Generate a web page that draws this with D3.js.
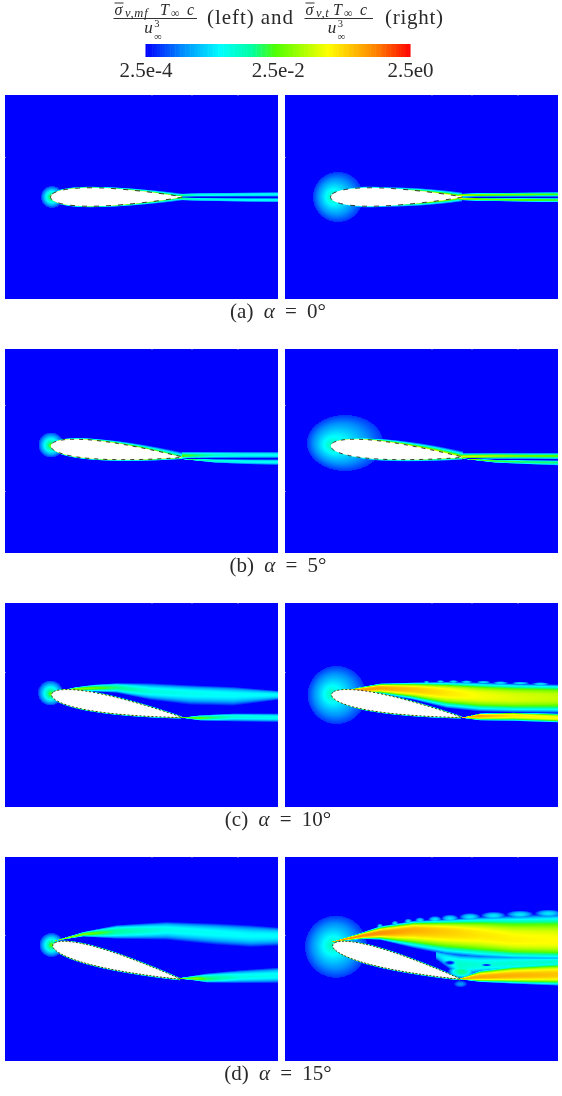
<!DOCTYPE html>
<html><head><meta charset="utf-8">
<script src="https://cdn.jsdelivr.net/npm/d3@7"></script>
<style>html,body{margin:0;padding:0;background:#fff}svg{display:block}text{filter:blur(0.3px)}</style>
</head><body><div id="chart"></div>
<script>
// ---- colour bar ----
const barTicks = [2.5e-4, 2.5e-2, 2.5];
const barLabels = ["2.5e-4", "2.5e-2", "2.5e0"];
const rampStops = [0, 0.14, 0.28, 0.4, 0.49, 0.687, 0.87, 1];
const rampColors = ["#0000ff", "#0090ff", "#00ffff", "#00ffa0", "#50ff00", "#ffff00", "#ff8000", "#ff0000"];

// ---- cases ----
const captionLetters = ["(a)", "(b)", "(c)", "(d)"];
const alphaDeg = [0, 5, 10, 15];
const pivotY = [0, 0.5, 0.8, 3];
const topMarks = [101, 141, 187];
const sideMarks = [[-40], [-46, 40], [-33], [-24]];

// ---- aerofoil: chord = 132 units ----
const chordStations = [0, 1.65, 3.3, 6.6, 9.9, 13.2, 19.8, 26.4, 33, 39.6, 52.8, 66, 79.2, 92.4, 105.6, 118.8, 125.4, 132];
const halfThickness = [0, 2.92, 4.03, 5.48, 6.47, 7.21, 8.24, 8.83, 9.15, 9.24, 8.94, 8.16, 7.02, 5.64, 4.04, 2.23, 1.24, 0.2];

// ---- wall layers: [chord x, thickness, level] ----
const wallA_L = [[0,1.2,0.03],[60,1.5,0.05],[100,2.5,0.05],[132,3.5,0.03]];
const wallA_R = [[0,1.5,0.005],[60,1.5,0.006],[90,3,0.05],[115,4,0.13],[132,4.5,0.1]];
const wallB_upL = [[0,1,0.06],[50,2,0.08],[90,3.5,0.05],[132,5,0.02]];
const wallB_loL = [[0,1.2,0.05],[132,2,0.06]];
const wallB_upR = [[0,1,0.03],[40,2,0.08],[100,5,0.13],[132,6,0.1]];
const wallB_loR = [[0,1.5,0.006],[80,2,0.02],[132,2.5,0.05]];
const wallC_up = [[0,1,0.05],[132,1.2,0.03]];
const wallC_lo = [[0,1,0.05],[132,1.5,0.06]];

// ---- wakes & shear layers: [x, top, middle, bottom, level] ----
const leftA_upper = [[128,-3.4,-1.5,-0.2,0.015],[150,-4.2,-2.2,-0.2,0.005],[198,-4.7,-2.5,-0.2,0.004],[228,-5,-2.7,-0.2,0.0038]];
const leftA_lower = [[128,0.2,1.5,3.4,0.015],[150,0.6,2.2,4.2,0.005],[198,0.9,3,5,0.004],[228,1,3,5.5,0.0038]];
const rightA_upper = [[128,-3.4,-1.5,-0.2,0.08],[150,-4.2,-2.2,-0.2,0.04],[198,-4.7,-2.5,-0.2,0.03],[228,-5,-2.7,-0.2,0.02]];
const rightA_lower = [[128,0.2,1.5,3.4,0.08],[150,0.6,2.2,4.2,0.04],[198,0.9,3,5,0.03],[228,1,3,5.5,0.02]];

const leftB_upper = [[132,0.7,5,7.3,0.025],[165,0.7,4,7.3,0.006],[198,0.7,4,7.3,0.004],[228,0.7,4,7.3,0.0038]];
const leftB_lower = [[132,7.4,7.8,8.4,0.02],[165,8,10,12,0.006],[198,8.2,10.5,13.5,0.004],[228,8.2,11,14.2,0.0038]];
const rightB_upper = [[132,2,6,7.2,0.1],[165,2,5,8,0.05],[198,2,5,8,0.03],[228,2,5,8.3,0.025]];
const rightB_lower = [[132,7.3,7.6,8,0.05],[165,8.5,10,12,0.02],[198,9,11,13.5,0.015],[228,9.3,11.5,14.7,0.012]];

const leftC_upper = [[3,-13,-12.7,-12.5,0.06],[25,-18,-16,-14,0.05],[43,-20.5,-16.7,-13.3,0.03],[66,-22,-17.3,-12,0.012],[99.5,-22,-13.3,-5,0.0048],[139.5,-20,-11.7,0,0.004],[183,-18.3,-10,1,0.0035],[228,-14.3,-10,-5,0.0032]];
const leftC_lower = [[131,12.5,12.5,13,0.03],[149.5,10,13.3,15.7,0.025],[183,8.3,11.7,16.7,0.0053],[228,8.3,12.7,17.3,0.004]];
const rightC_upper = [[3,-13,-12.7,-12.5,0.6],[49.5,-21.7,-16.7,-11,0.48],[83,-22.7,-15,-5,0.3],[116,-23.3,-11.7,3.3,0.19],[149.5,-22.7,-8.3,6.7,0.13],[183,-21.7,-6.7,7.7,0.1],[228,-20.7,-6.7,8.3,0.076]];
const rightC_lower = [[130.5,12.7,12.7,12.9,0.3],[149.5,8.3,11,15.7,0.48],[183,7.4,10.7,16.3,0.19],[228,8.3,13.3,17.7,0.13]];

const leftD_upper = [[4.5,-18.6,-18.3,-18,0.06],[33,-27.3,-24.7,-22.3,0.04],[66,-34,-27.3,-20,0.01],[116,-37.3,-29,-19,0.0042],[166,-35.7,-25.7,-14,0.0036],[200,-34,-23,-11.7,0.0033],[228,-31.7,-23,-13,0.0033]];
const leftD_lower = [[126,19.3,19.3,19.6,0.025],[146,16,20,22,0.04],[156,14.3,20.3,23.7,0.015],[189.5,11,18.3,24.3,0.0045],[228,8.3,17,24.3,0.0038]];
const rightD_upper = [[2,-17.6,-17.3,-17,0.6],[33,-27.3,-23.3,-19.7,0.63],[49.5,-33,-25.7,-19,0.6],[83,-38.3,-29,-10.7,0.4],[116,-40,-27.3,-4,0.27],[149.5,-42.3,-24,-0.7,0.19],[183,-44,-19,1,0.16],[228,-45.7,-17.3,1.7,0.14]];
const rightD_lower = [[128,20,20,20.3,0.4],[149.5,11,18.3,23.3,0.45],[183,6,17,25,0.4],[228,2.7,16,27,0.3]];
const rightD_bridge = [[106,-8,-5,1,0.002],[129.5,-5,6,18,0.006],[149.5,-4,6,14,0.005],[228,-2,3,8,0.006]];

// ---- nose glow: [centre x, centre y, radius x, radius y, focus x, focus y, nose level, rim level] ----
const noseAL = [1.5,0,11,11,1,0,0.03,0.0004];
const noseBL = [0.5,-6,12.5,12.5,0.5,-5.5,0.03,0.0004];
const noseCL = [0,-12,12.5,12.5,0.5,-11,0.03,0.0004];
const noseDL = [1,-14,12,12,1,-14,0.03,0.0004];
const noseAR = [7.5,0,25,25,1,0,0.008,0.0004];
const noseBR = [14.5,-8,38,28,0.5,-5.5,0.008,0.0004];
const noseCR = [6.2,-10,29,29,0.5,-11,0.008,0.0004];
const noseDR = [5.5,-12.3,31,31,1,-14,0.008,0.0004];

// ---- puffs on the outer edge: [x, y, radius x, radius y] ----
const puffsC = [[96,-22.7,3,1.6],[110,-23.3,4,1.6],[123,-23.3,5,1.6],[136,-23,6,1.7],[153,-22.7,7,1.8],[170,-22,8,1.8],[190,-21.7,9,1.8],[210,-21,9,1.8]];
const puffsD = [[49.5,-33,3,2.4],[64.5,-35.5,3.5,2.8],[77.8,-37.5,4,3],[89.5,-38.5,5,3.2],[104.5,-39.5,7,3.5],[119.5,-40.5,9,4],[139.5,-42,11,4],[163,-43.3,13,4],[189.5,-44.5,14,4],[218,-45.5,14,4]];

// ---- quiet patches & extra blobs near the trailing edge ----
const holesC = [[131,7,6,2]];
const holesD = [[119.5,3.7,6,2.5],[156,6,6,1.3]];
const blobsD = [[131,12.7,14,7,0.012],[130,25,7,3.5,0.001]];

const panels = [
  {row:0,side:0,nose:noseAL,up:wallA_L,lo:wallA_L,ribbons:[leftA_upper,leftA_lower],pow:[2,2],dash:"5 7"},
  {row:0,side:1,nose:noseAR,up:wallA_R,lo:wallA_R,ribbons:[rightA_upper,rightA_lower],pow:[2,2],dash:"5 7"},
  {row:1,side:0,nose:noseBL,up:wallB_upL,lo:wallB_loL,ribbons:[leftB_upper,leftB_lower],pow:[2,2],dash:"4 5"},
  {row:1,side:1,nose:noseBR,up:wallB_upR,lo:wallB_loR,ribbons:[rightB_upper,rightB_lower],pow:[2,2],dash:"4 5"},
  {row:2,side:0,nose:noseCL,up:wallC_up,lo:wallC_lo,ribbons:[leftC_upper,leftC_lower],pow:[2.2,1.8],dash:"2 2"},
  {row:2,side:1,nose:noseCR,up:wallC_up,lo:wallC_lo,ribbons:[rightC_upper,rightC_lower],pow:[3,2.2],puffs:puffsC,holes:holesC,dash:"2 2"},
  {row:3,side:0,nose:noseDL,up:wallC_up,lo:wallC_lo,ribbons:[leftD_upper,leftD_lower],pow:[2.2,1.8],dash:"2 1.5"},
  {row:3,side:1,nose:noseDR,up:wallC_up,lo:wallC_lo,ribbons:[rightD_upper,rightD_lower,rightD_bridge],pow:[2.5,2.2],puffs:puffsD,holes:holesD,blobs:blobsD,dash:"2 1.5"}
];

// ---- layout ----
const W = 562, H = 1096, PW = 273, PH = 204;
const panelX = [5, 285], panelY = [95, 349, 603, 857];
const serif = "'Liberation Serif','Times New Roman',serif";
const ink = "#2a2a2a";
const svg = d3.select("#chart").append("svg").attr("width", W).attr("height", H).style("font-family", serif).style("fill", ink);

const xS = d3.scaleLinear([-45.5, 227.5], [0, PW]);
const yS = d3.scaleLinear([-102, 102], [0, PH]);
const level = d3.scaleLog([2.5e-4, 2.5], [0, 1]);
const ramp = d3.scaleLinear(rampStops, rampColors).interpolate(d3.interpolateRgb).clamp(true);
const halfS = d3.scaleLinear(chordStations, halfThickness);
const palette = d3.range(0, 1001).map(i => d3.rgb(ramp(i / 1000)));

function wallScales(rows) {
  const xs = rows.map(r => r[0]);
  return {th: d3.scaleLinear(xs, rows.map(r => r[1])).clamp(true),
          t: d3.scaleLinear(xs, rows.map(r => level(r[2]))).clamp(true)};
}
function ellipseRay(px, py, n) {
  const ax = (px - n[0]) / n[2], ay = (py - n[1]) / n[3];
  const fx = (n[4] - n[0]) / n[2], fy = (n[5] - n[1]) / n[3];
  const dx = ax - fx, dy = ay - fy;
  const a = dx*dx + dy*dy;
  if (a === 0) return 0;
  const b = 2*(fx*dx + fy*dy), c = fx*fx + fy*fy - 1;
  const k = (-b + Math.sqrt(b*b - 4*a*c)) / (2*a);
  return 1 / k;
}

function renderField(p) {
  const cv = document.createElement("canvas");
  cv.width = PW; cv.height = PH;
  const ctx = cv.getContext("2d");
  const img = ctx.createImageData(PW, PH);
  const a = alphaDeg[p.row] * Math.PI / 180, ca = Math.cos(a), sa = Math.sin(a);
  const py0 = pivotY[p.row];
  const up = wallScales(p.up), lo = wallScales(p.lo);
  const noseHi = level(p.nose[6]), noseRim = level(p.nose[7]);
  const ribbons = p.ribbons.map(r => {
    const xs = r.map(d => d[0]);
    return {x0: xs[0], x1: xs[xs.length-1],
      top: d3.scaleLinear(xs, r.map(d => d[1])), mid: d3.scaleLinear(xs, r.map(d => d[2])),
      bot: d3.scaleLinear(xs, r.map(d => d[3])), pk: d3.scaleLinear(xs, r.map(d => level(d[4])))};
  });
  const puffT = level(0.0025);
  for (let j = 0; j < PH; j++) {
    const y = yS.invert(j + 0.5);
    for (let i = 0; i < PW; i++) {
      const x = xS.invert(i + 0.5);
      let t = 0;
      const s = ellipseRay(x, y, p.nose);
      if (s < 1) t = Math.max(t, noseRim + (noseHi - noseRim) * (1 - s));
      for (const r of ribbons) {
        if (x < r.x0 || x > r.x1) continue;
        const m = r.mid(x), tp = r.top(x), bt = r.bot(x);
        const d = y < m ? (m - y) / Math.max(m - tp, 0.05) : (y - m) / Math.max(bt - m, 0.05);
        if (d < 1) {
          const e = y < m ? p.pow[0] : p.pow[1];
          t = Math.max(t, r.pk(x) * (1 - Math.pow(d, e)));
        }
      }
      const rx = x - 66, ry = y - py0;
      const bx = rx * ca + ry * sa + 66, by = -rx * sa + ry * ca;
      if (bx >= 0 && bx <= 132) {
        const w = by < 0 ? up : lo;
        const d = Math.abs(by) - halfS(bx), th = w.th(bx);
        if (d > -1 && d < th) t = Math.max(t, w.t(bx) * (1 - Math.max(d, 0) / th));
      }
      if (p.puffs) for (const f of p.puffs) {
        const dx = (x - f[0]) / f[2], dy = (y - f[1]) / f[3], d2 = dx*dx + dy*dy;
        if (d2 < 1) t = Math.max(t, puffT * (1 - d2));
      }
      if (p.blobs) for (const f of p.blobs) {
        const dx = (x - f[0]) / f[2], dy = (y - f[1]) / f[3], d2 = dx*dx + dy*dy;
        if (d2 < 1) t = Math.max(t, level(f[4]) * (1 - d2));
      }
      if (p.holes) for (const f of p.holes) {
        const dx = (x - f[0]) / f[2], dy = (y - f[1]) / f[3], d2 = dx*dx + dy*dy;
        if (d2 < 1) t = t * d2;
      }
      const c = palette[Math.round(Math.max(0, Math.min(1, t)) * 1000)];
      const k = (j * PW + i) * 4;
      img.data[k] = c.r; img.data[k+1] = c.g; img.data[k+2] = c.b; img.data[k+3] = 255;
    }
  }
  ctx.putImageData(img, 0, 0);
  return cv.toDataURL();
}

const foilLine = d3.line().x(d => xS(d[0])).y(d => yS(d[1])).curve(d3.curveCatmullRomClosed.alpha(0.5));
panels.forEach(p => {
  const g = svg.append("g").attr("transform", `translate(${panelX[p.side]},${panelY[p.row]})`);
  g.append("image").attr("width", PW).attr("height", PH).attr("href", renderField(p))
    .style("filter", "blur(0.45px)");
  const a = alphaDeg[p.row] * Math.PI / 180, ca = Math.cos(a), sa = Math.sin(a), py0 = pivotY[p.row];
  const rot = (cx, cy) => [(cx-66)*ca - cy*sa + 66, (cx-66)*sa + cy*ca + py0];
  const outline = chordStations.map((c,i) => rot(c, -halfThickness[i]))
    .concat(chordStations.slice(1, -1).reverse().map(c => rot(c, halfS(c))));
  g.append("path").attr("d", foilLine(outline)).attr("fill", "#fff")
    .attr("stroke", "#222").attr("stroke-width", 0.9).attr("stroke-dasharray", p.dash);
  const topAx = g.append("g").call(d3.axisTop(xS).tickValues(topMarks).tickSize(-1).tickFormat(""));
  const sideAx = g.append("g").call(d3.axisLeft(yS).tickValues(sideMarks[p.row]).tickSize(-1).tickFormat(""));
  [topAx, sideAx].forEach(ax => {
    ax.select(".domain").remove();
    ax.selectAll("line").attr("stroke", "#fff").attr("stroke-opacity", 0.5);
  });
});

// ---- captions ----
const capY = [318, 572, 826, 1080];
captionLetters.forEach((c,i) => {
  const t = svg.append("text").attr("x", 278).attr("y", capY[i]).attr("text-anchor", "middle")
    .attr("font-size", 21).style("word-spacing", "5px");
  t.append("tspan").text(c + " ");
  t.append("tspan").attr("font-style", "italic").text("α");
  t.append("tspan").text(` = ${alphaDeg[i]}°`);
});

// ---- colour bar ----
const barX = d3.scaleLog([2.5e-4, 2.5], [145.5, 410]);
const barSteps = d3.range(0, 160).map(i => i / 160);
svg.append("g").selectAll("rect").data(barSteps).join("rect")
  .attr("x", d => barX.range()[0] + d * 264.5).attr("y", 44).attr("width", 2.2).attr("height", 13)
  .attr("fill", d => ramp(d));
const axisG = svg.append("g").attr("transform", "translate(0,57)")
  .call(d3.axisBottom(barX).tickValues(barTicks).tickSize(0).tickPadding(5).tickFormat((d,i) => barLabels[i]));
axisG.select(".domain").remove();
axisG.selectAll("text").attr("font-family", serif).attr("font-size", 21).attr("fill", ink).attr("dy", "0.71em");

// ---- title ----
function fraction(x0, x1, subText, subW) {
  const g = svg.append("g");
  g.append("line").attr("x1", x0).attr("x2", x1).attr("y1", 18.5).attr("y2", 18.5).attr("stroke", "#333").attr("stroke-width", 1);
  g.append("line").attr("x1", x0 + 1).attr("x2", x0 + 10).attr("y1", 3).attr("y2", 3).attr("stroke", "#333").attr("stroke-width", 1);
  const it = (x, y, s, fs, style) =>
    g.append("text").attr("x", x).attr("y", y).attr("font-size", fs).attr("font-style", style || "italic").text(s);
  it(x0 + 1, 14.5, "σ", 16);
  it(x0 + 11.5, 17, subText, 12.5).style("letter-spacing", "0.8px");
  const tx = x0 + 12 + subW;
  it(tx, 14.5, "T", 16);
  it(tx + 11, 17, "∞", 12, "normal");
  it(tx + 27, 14.5, "c", 16);
  const cx = (x0 + x1) / 2 - 11;
  it(cx, 33, "u", 17);
  it(cx + 10, 26.5, "3", 10.5, "normal");
  it(cx + 10, 39.5, "∞", 10.5, "normal");
}
fraction(113.5, 197, "v,mf", 34.5);
fraction(304.5, 373, "v,t", 16.5);
svg.append("text").attr("x", 207).attr("y", 24).attr("font-size", 21).attr("textLength", 86).attr("lengthAdjust", "spacing").text("(left) and");
svg.append("text").attr("x", 385).attr("y", 24).attr("font-size", 21).attr("textLength", 58).attr("lengthAdjust", "spacing").text("(right)");
</script></body></html>
